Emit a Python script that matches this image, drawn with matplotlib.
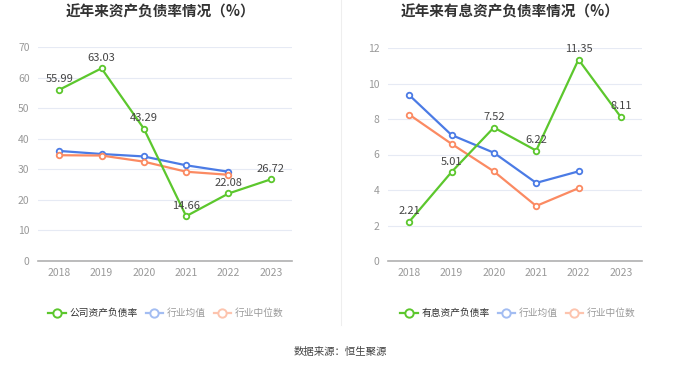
import matplotlib
matplotlib.use("Agg")
import matplotlib.pyplot as plt
from matplotlib.lines import Line2D

plt.rcParams['font.family'] = ['Noto Sans CJK SC', 'DejaVu Sans']

years = ['2018', '2019', '2020', '2021', '2022', '2023']

left_title = '近年来资产负债率情况（%）'
left_company = [55.99, 63.03, 43.29, 14.66, 22.08, 26.72]
left_avg = [36.0, 35.0, 34.2, 31.3, 29.2]
left_median = [34.6, 34.5, 32.5, 29.2, 28.2]
left_names = ['公司资产负债率', '行业均值', '行业中位数']
left_yticks = [0, 10, 20, 30, 40, 50, 60, 70]

right_title = '近年来有息资产负债率情况（%）'
right_company = [2.21, 5.01, 7.52, 6.22, 11.35, 8.11]
right_avg = [9.35, 7.1, 6.1, 4.4, 5.05]
right_median = [8.25, 6.6, 5.05, 3.1, 4.1]
right_names = ['有息资产负债率', '行业均值', '行业中位数']
right_yticks = [0, 2, 4, 6, 8, 10, 12]

source = '数据来源：恒生聚源'

GREEN = '#5cc72d'
BLUE = '#4b7be5'
ORANGE = '#fb8a62'
BLUE_L = '#a3bdf2'
ORANGE_L = '#fdc4ae'

W, H = 680, 367
fig = plt.figure(figsize=(W/100, H/100), dpi=100)

def draw(rect, title, comp, avg, med, yticks, names, legx, title_cx):
    ax = fig.add_axes(rect)
    x = list(range(len(years)))
    ax.plot(x[:len(avg)], avg, color=BLUE, lw=1.6, marker='o', ms=4, mfc='white', mew=1.3, zorder=3)
    ax.plot(x[:len(med)], med, color=ORANGE, lw=1.6, marker='o', ms=4, mfc='white', mew=1.3, zorder=3)
    ax.plot(x, comp, color=GREEN, lw=1.6, marker='o', ms=4, mfc='white', mew=1.3, zorder=4)
    for xi, v in zip(x, comp):
        ax.annotate(f'{v:.2f}', (xi, v), xytext=(0, 4), textcoords='offset points',
                    ha='center', va='bottom', fontsize=8, color='#444444', zorder=5)
    ax.set_xlim(-0.5, len(years) - 0.5)
    ax.set_ylim(yticks[0], yticks[-1])
    ax.set_yticks(yticks)
    ax.set_xticks(x)
    ax.set_xticklabels(years)
    ax.grid(axis='y', color='#e6eaf4', lw=0.8)
    ax.set_axisbelow(True)
    for s in ['top', 'right', 'left']:
        ax.spines[s].set_visible(False)
    ax.spines['bottom'].set_color('#b0b0b0')
    ax.spines['bottom'].set_linewidth(1.2)
    ax.tick_params(axis='both', length=0, labelsize=7.5, colors='#999999', pad=6)
    ax.tick_params(axis='x', pad=5)
    fig.text(title_cx / W, 1 - 12 / H, title, ha='center', va='center', fontsize=10.5,
             fontweight='bold', color='#333333')
    handles = [
        Line2D([], [], color=GREEN, lw=1.6, marker='o', ms=6, mfc='white', mew=1.4),
        Line2D([], [], color=BLUE_L, lw=1.6, marker='o', ms=6, mfc='white', mew=1.4),
        Line2D([], [], color=ORANGE_L, lw=1.6, marker='o', ms=6, mfc='white', mew=1.4),
    ]
    leg = fig.legend(handles, names, loc='center', bbox_to_anchor=(legx / W, 1 - 313 / H),
                     ncol=3, frameon=False, fontsize=7, handlelength=1.8, handletextpad=0.4,
                     columnspacing=0.8)
    for i, t in enumerate(leg.get_texts()):
        t.set_color('#333333' if i == 0 else '#999999')
    return ax

draw([38 / W, 1 - 261 / H, 254 / W, 214 / H], left_title, left_company, left_avg, left_median,
     left_yticks, left_names, 166, 160)
draw([388 / W, 1 - 261 / H, 254 / W, 213 / H], right_title, right_company, right_avg, right_median,
     right_yticks, right_names, 518, 510)

fig.add_artist(Line2D([341 / W, 341 / W], [1 - 325 / H, 1.0], color='#eeeeee', lw=0.8))
fig.text(340 / W, 1 - 352 / H, source, ha='center', va='center', fontsize=7.5, color='#444444')

fig.savefig('out.png', dpi=100, facecolor='white')
